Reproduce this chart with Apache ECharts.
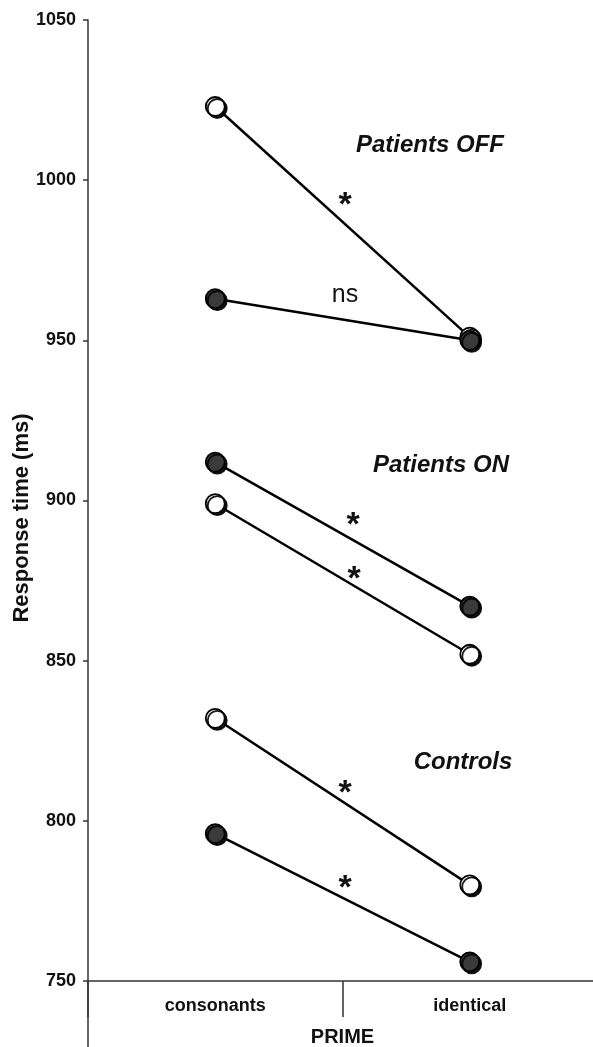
<!DOCTYPE html>
<html>
<head>
<meta charset="utf-8">
<style>
html,body{margin:0;padding:0;background:#fff;}
#main{width:593px;height:1047px;}
</style>
<script src="https://cdn.jsdelivr.net/npm/echarts@6/dist/echarts.min.js"></script>
</head>
<body>
<div id="main"></div>
<script>
var categories = ['consonants', 'identical'];
var yTicks = [750, 800, 850, 900, 950, 1000, 1050];
var offOpen = [1023, 951];
var offFilled = [963, 950];
var onFilled = [912, 867];
var onOpen = [899, 852];
var ctrlOpen = [832, 780];
var ctrlFilled = [796, 756];

var FONT = 'Liberation Sans, Arial, sans-serif';
var chart = echarts.init(document.getElementById('main'), null, {renderer: 'canvas'});

function mkSeries(name, data, filled) {
  return {
    name: name,
    type: 'line',
    data: data,
    symbol: 'circle',
    symbolSize: 19,
    z: filled ? 4 : 3,
    lineStyle: {color: '#000', width: 2.5},
    itemStyle: {
      color: filled ? '#3a3a3a' : '#ffffff',
      borderColor: '#000',
      borderWidth: 1.8,
      shadowColor: 'rgba(0,0,0,0.9)',
      shadowBlur: 0,
      shadowOffsetX: 2,
      shadowOffsetY: 2
    },
    emphasis: {disabled: true},
    silent: true,
    animation: false
  };
}

function txt(x, y, s, font) {
  return {type: 'text', x: x, y: y, silent: true,
    style: {text: s, fill: '#111', font: font, align: 'center', verticalAlign: 'middle'}};
}
var STAR = 'bold 34px ' + FONT;
var LBL = 'italic bold 24px ' + FONT;

var option = {
  animation: false,
  grid: {left: 88, right: -4, top: 20, bottom: 66, containLabel: false, outerBoundsMode: 'none'},
  xAxis: {
    type: 'category',
    data: categories,
    boundaryGap: true,
    axisLine: {lineStyle: {color: '#333', width: 1.5}},
    axisTick: {show: true, interval: 0, length: 36, lineStyle: {color: '#333', width: 1.5}},
    axisLabel: {interval: 0, color: '#111', fontFamily: FONT, fontWeight: 'bold', fontSize: 18, margin: 16},
    name: 'PRIME',
    nameLocation: 'middle',
    nameGap: 46,
    nameTextStyle: {color: '#111', fontFamily: FONT, fontWeight: 'bold', fontSize: 20}
  },
  yAxis: {
    type: 'value',
    min: 750,
    max: 1050,
    interval: 50,
    axisLine: {show: true, lineStyle: {color: '#333', width: 1.5}},
    axisTick: {show: true, length: 5, lineStyle: {color: '#333', width: 1.5}},
    splitLine: {show: false},
    axisLabel: {color: '#111', fontFamily: FONT, fontWeight: 'bold', fontSize: 18, margin: 12,
      formatter: function (v) { return yTicks.indexOf(v) >= 0 ? String(v) : ''; }}
  },
  graphic: [
    {type: 'line', shape: {x1: 88, y1: 981, x2: 88, y2: 1047}, style: {stroke: '#333', lineWidth: 1.5}, silent: true},
    {type: 'text', x: 22, y: 518, rotation: Math.PI / 2, silent: true,
      style: {text: 'Response time (ms)', fill: '#111', font: 'bold 22px ' + FONT, align: 'center', verticalAlign: 'middle'}},
    txt(430, 145, 'Patients OFF', LBL),
    txt(345, 206, '*', STAR),
    txt(345, 295, 'ns', '25px ' + FONT),
    txt(441, 465, 'Patients ON', LBL),
    txt(353, 526, '*', STAR),
    txt(354, 580, '*', STAR),
    txt(463, 762, 'Controls', LBL),
    txt(345, 794, '*', STAR),
    txt(345, 889, '*', STAR)
  ],
  series: [
    mkSeries('Patients OFF open', offOpen, false),
    mkSeries('Patients OFF filled', offFilled, true),
    mkSeries('Patients ON open', onOpen, false),
    mkSeries('Patients ON filled', onFilled, true),
    mkSeries('Controls open', ctrlOpen, false),
    mkSeries('Controls filled', ctrlFilled, true)
  ]
};
chart.setOption(option);
</script>
</body>
</html>
